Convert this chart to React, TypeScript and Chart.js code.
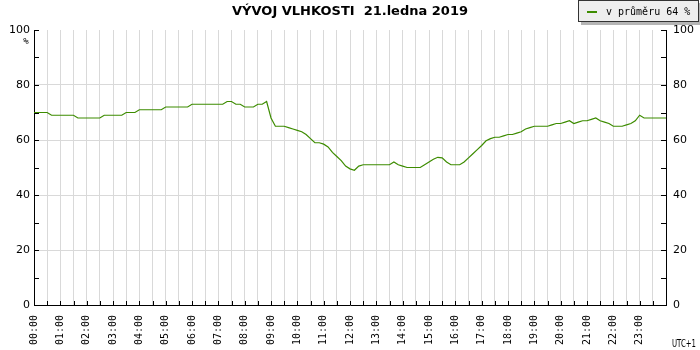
import React, { useEffect, useRef } from 'react';
import { Chart, registerables } from 'chart.js';

Chart.register(...registerables);

const TITLE = 'VÝVOJ VLHKOSTI  21.ledna 2019';
const LEGEND_LABEL = 'v průměru 64 %';
const Y_UNIT = '%';
const TIMEZONE_LABEL = 'UTC+1';
const HOUR_LABELS = [
  '00:00', '01:00', '02:00', '03:00', '04:00', '05:00', '06:00', '07:00',
  '08:00', '09:00', '10:00', '11:00', '12:00', '13:00', '14:00', '15:00',
  '16:00', '17:00', '18:00', '19:00', '20:00', '21:00', '22:00', '23:00',
];
const STEP_MINUTES = 10;
const Y_MIN = 0;
const Y_MAX = 100;
// humidity (%) every 10 minutes, 00:00 .. 24:00
const H00 = [70, 70, 70, 70, 69, 69];
const H01 = [69, 69, 69, 69, 68, 68];
const H02 = [68, 68, 68, 68, 69, 69];
const H03 = [69, 69, 69, 70, 70, 70];
const H04 = [71, 71, 71, 71, 71, 71];
const H05 = [72, 72, 72, 72, 72, 72];
const H06 = [73, 73, 73, 73, 73, 73];
const H07 = [73, 73, 74, 74, 73, 73];
const H08 = [72, 72, 72, 73, 73, 74];
const H09 = [68, 65, 65, 65, 64.5, 64];
const H10 = [63.5, 63, 62, 60.5, 59, 59];
const H11 = [58.5, 57.5, 55.5, 54, 52.5, 50.5];
const H12 = [49.5, 49, 50.5, 51, 51, 51];
const H13 = [51, 51, 51, 51, 52, 51];
const H14 = [50.5, 50, 50, 50, 50, 51];
const H15 = [52, 53, 53.7, 53.5, 52, 51];
const H16 = [51, 51, 52, 53.5, 55, 56.5];
const H17 = [58, 59.7, 60.5, 61, 61, 61.5];
const H18 = [62, 62, 62.5, 63, 64, 64.5];
const H19 = [65, 65, 65, 65, 65.5, 66];
const H20 = [66, 66.5, 67, 66, 66.5, 67];
const H21 = [67, 67.5, 68, 67, 66.5, 66];
const H22 = [65, 65, 65, 65.5, 66, 67];
const H23 = [69, 68, 68, 68, 68, 68];
const H24 = [68];
const HUMIDITY = [
  ...H00, ...H01, ...H02, ...H03, ...H04, ...H05, ...H06, ...H07,
  ...H08, ...H09, ...H10, ...H11, ...H12, ...H13, ...H14, ...H15,
  ...H16, ...H17, ...H18, ...H19, ...H20, ...H21, ...H22, ...H23, ...H24,
];

const LINE_COLOR = '#3d8c00';
const GRID_COLOR = '#d9d9d9';
const MONO = '"DejaVu Sans Mono", monospace';
const SANS = '"DejaVu Sans", sans-serif';

const decorPlugin = {
  id: 'decor',
  afterDraw(chart: any) {
    const { ctx, chartArea, scales } = chart;
    const y = scales.y;
    const x = scales.x;
    ctx.save();
    ctx.strokeStyle = '#000';
    ctx.lineWidth = 1;
    // inward tick marks on both vertical axes
    for (let v = Y_MIN; v <= Y_MAX; v += 10) {
      const py = Math.round(y.getPixelForValue(v)) + 0.5;
      ctx.beginPath();
      ctx.moveTo(chartArea.left, py);
      ctx.lineTo(chartArea.left + 5, py);
      ctx.moveTo(chartArea.right, py);
      ctx.lineTo(chartArea.right - 5, py);
      ctx.stroke();
    }
    // tick marks on the time axis (every 30 min)
    for (let m = 0; m <= 24 * 60; m += 30) {
      const px = Math.round(x.getPixelForValue(m)) + 0.5;
      ctx.beginPath();
      ctx.moveTo(px, chartArea.bottom);
      ctx.lineTo(px, chartArea.bottom - 4);
      ctx.stroke();
    }
    ctx.fillStyle = '#000';
    ctx.font = `9px ${MONO}`;
    ctx.textAlign = 'center';
    ctx.textBaseline = 'middle';
    ctx.fillText(Y_UNIT, 26, y.getPixelForValue(Y_MAX) + 12);
    // timezone (narrow)
    ctx.font = `10px ${SANS}`;
    ctx.textAlign = 'left';
    ctx.textBaseline = 'alphabetic';
    const w = ctx.measureText(TIMEZONE_LABEL).width;
    ctx.save();
    ctx.translate(chartArea.right + 6, 347);
    ctx.scale(Math.min(1, 24 / w), 1);
    ctx.fillText(TIMEZONE_LABEL, 0, 0);
    ctx.restore();
    // title
    ctx.textBaseline = 'middle';
    ctx.font = `bold 13px ${SANS}`;
    ctx.textAlign = 'center';
    ctx.fillText(TITLE, 350, 12);
    // legend box
    ctx.fillStyle = '#b5b5b5';
    ctx.fillRect(581, 3, 121, 22);
    ctx.fillStyle = '#eeeeee';
    ctx.fillRect(578, 0, 121, 22);
    ctx.strokeStyle = '#333';
    ctx.strokeRect(578.5, 0.5, 120, 21);
    ctx.strokeStyle = LINE_COLOR;
    ctx.lineWidth = 2;
    ctx.beginPath();
    ctx.moveTo(587, 12);
    ctx.lineTo(597, 12);
    ctx.stroke();
    ctx.fillStyle = '#000';
    ctx.font = `10px ${MONO}`;
    ctx.textAlign = 'left';
    ctx.fillText(LEGEND_LABEL, 606, 12);
    ctx.restore();
  },
};

export default function App() {
  const ref = useRef<HTMLCanvasElement | null>(null);
  useEffect(() => {
    if (!ref.current) return;
    const points = HUMIDITY.map((v, i) => ({ x: i * STEP_MINUTES, y: v }));
    const yTickCb = (v: any) => (Number(v) % 20 === 0 ? String(v) : '');
    const chart = new Chart(ref.current, {
      type: 'line',
      data: {
        datasets: [
          {
            label: LEGEND_LABEL,
            data: points,
            borderColor: LINE_COLOR,
            borderWidth: 1.2,
            pointRadius: 0,
            tension: 0,
            fill: false,
            yAxisID: 'y',
          },
        ],
      },
      options: {
        animation: false,
        responsive: false,
        devicePixelRatio: 1,
        layout: { padding: { top: 30, left: 0, right: 0, bottom: 0 } },
        plugins: { legend: { display: false }, title: { display: false }, tooltip: { enabled: false } },
        scales: {
          x: {
            type: 'linear',
            min: 0,
            max: 24 * 60,
            afterCalculateLabelRotation: (s: any) => { s.labelRotation = 90; },
            afterFit: (s: any) => { s.height = 45; },
            ticks: {
              stepSize: 30,
              maxTicksLimit: 1000,
              autoSkip: false,
              minRotation: 90,
              maxRotation: 90,
              padding: 10,
              color: '#000',
              font: { family: MONO, size: 10 },
              callback: (v: any) => {
                const n = Number(v);
                return n % 60 === 0 && n / 60 < HOUR_LABELS.length ? HOUR_LABELS[n / 60] : '';
              },
            },
            grid: { color: GRID_COLOR, drawTicks: false },
            border: { color: '#000', width: 1 },
          },
          y: {
            position: 'left',
            min: Y_MIN,
            max: Y_MAX,
            afterFit: (s: any) => { s.width = 34; },
            ticks: {
              stepSize: 10,
              padding: 4,
              color: '#000',
              font: { family: SANS, size: 11 },
              callback: yTickCb,
            },
            grid: {
              drawTicks: false,
              color: (c: any) => {
                const v = c.tick ? c.tick.value : -1;
                return v % 20 === 0 && v !== Y_MAX && v !== Y_MIN ? GRID_COLOR : 'rgba(0,0,0,0)';
              },
            },
            border: { color: '#000', width: 1 },
          },
          y2: {
            position: 'right',
            min: Y_MIN,
            max: Y_MAX,
            afterFit: (s: any) => { s.width = 34; },
            ticks: {
              stepSize: 10,
              padding: 7,
              color: '#000',
              font: { family: SANS, size: 11 },
              callback: yTickCb,
            },
            grid: { drawTicks: false, color: 'rgba(0,0,0,0)' },
            border: { color: '#000', width: 1 },
          },
        },
      },
      plugins: [decorPlugin],
    });
    return () => chart.destroy();
  }, []);
  return (
    <div style={{ position: 'fixed', left: 0, top: 0, width: 700, height: 350, background: '#fff' }}>
      <canvas ref={ref} width={700} height={350} style={{ display: 'block', width: 700, height: 350 }} />
    </div>
  );
}
